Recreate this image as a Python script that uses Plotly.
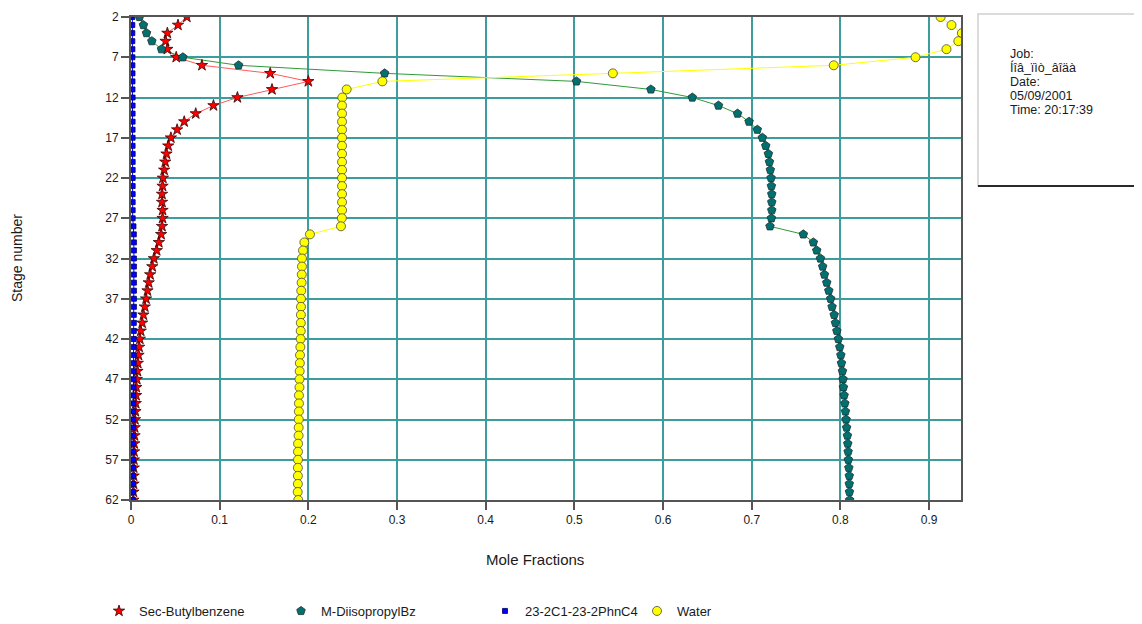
import plotly.graph_objects as go

# ---------------- data ----------------
stages = [2, 3, 4, 5, 6, 7, 8, 9, 10, 11, 12, 13, 14, 15, 16, 17, 18, 19, 20, 21,
          22, 23, 24, 25, 26, 27, 28, 29, 30, 31, 32, 33, 34, 35, 36, 37, 38, 39, 40, 41,
          42, 43, 44, 45, 46, 47, 48, 49, 50, 51, 52, 53, 54, 55, 56, 57, 58, 59, 60, 61, 62]

sec_butylbenzene = [0.063, 0.053, 0.041, 0.039, 0.041, 0.051, 0.080, 0.157, 0.200, 0.159,
                    0.120, 0.093, 0.073, 0.060, 0.052, 0.045, 0.042, 0.040, 0.0386, 0.0374,
                    0.036, 0.0356, 0.035, 0.035, 0.0356, 0.0356, 0.035, 0.034, 0.0314, 0.029,
                    0.0258, 0.024, 0.0216, 0.020, 0.0186, 0.017, 0.0156, 0.014, 0.0126, 0.011,
                    0.010, 0.0092, 0.0085, 0.0077, 0.0073, 0.0066, 0.006, 0.0058, 0.0054, 0.005,
                    0.0045, 0.0042, 0.004, 0.0037, 0.0035, 0.0033, 0.0031, 0.003, 0.0029, 0.0028,
                    0.0027]

m_diisopropylbz = [0.0096, 0.014, 0.0175, 0.0235, 0.0344, 0.0585, 0.1213, 0.286, 0.5024, 0.5863,
                   0.633, 0.6625, 0.684, 0.697, 0.7063, 0.712, 0.7158, 0.7188, 0.720, 0.721,
                   0.7218, 0.7222, 0.7226, 0.7226, 0.7226, 0.7222, 0.7206, 0.7582, 0.7695, 0.7733,
                   0.7775, 0.780, 0.782, 0.7846, 0.7869, 0.789, 0.7906, 0.793, 0.7944, 0.796,
                   0.7977, 0.7993, 0.8005, 0.8012, 0.8023, 0.803, 0.8034, 0.8042, 0.805, 0.8057,
                   0.8064, 0.807, 0.8079, 0.8083, 0.8087, 0.809, 0.8095, 0.810, 0.810, 0.8102,
                   0.8104]

phn_c4 = [0.0015, 0.0015, 0.0015, 0.0015, 0.0016, 0.0016, 0.0016, 0.0017, 0.0017, 0.0017,
          0.0018, 0.0018, 0.0018, 0.0018, 0.0018, 0.0018, 0.0018, 0.0019, 0.0019, 0.0019,
          0.0019, 0.0019, 0.0019, 0.0019, 0.0019, 0.0019, 0.0028, 0.0032, 0.0033, 0.0033,
          0.0033, 0.0033, 0.0033, 0.0033, 0.0033, 0.0033, 0.0033, 0.0032, 0.0032, 0.0032,
          0.0031, 0.0031, 0.0031, 0.0030, 0.0030, 0.0029, 0.0029, 0.0028, 0.0028, 0.0027,
          0.0027, 0.0026, 0.0026, 0.0025, 0.0025, 0.0024, 0.0024, 0.0023, 0.0023, 0.0022,
          0.0022]

water = [0.913, 0.9253, 0.937, 0.933, 0.9196, 0.8847, 0.7925, 0.5434, 0.2835, 0.2432,
         0.2383, 0.238, 0.238, 0.238, 0.238, 0.238, 0.238, 0.238, 0.238, 0.238,
         0.238, 0.238, 0.238, 0.238, 0.238, 0.2378, 0.2368, 0.2018, 0.1955, 0.194,
         0.1928, 0.1928, 0.1926, 0.1924, 0.192, 0.1917, 0.1917, 0.1916, 0.1915, 0.1914,
         0.1913, 0.191, 0.1906, 0.1904, 0.1902, 0.190, 0.190, 0.1894, 0.1894, 0.1893,
         0.1892, 0.1891, 0.189, 0.1884, 0.1883, 0.1883, 0.1882, 0.1882, 0.1882, 0.188,
         0.1886]

series_names = ["Sec-Butylbenzene", "M-DiisopropylBz", "23-2C1-23-2PhnC4", "Water"]
x_tick_values = [0, 0.1, 0.2, 0.3, 0.4, 0.5, 0.6, 0.7, 0.8, 0.9]
x_tick_labels = ["0", "0.1", "0.2", "0.3", "0.4", "0.5", "0.6", "0.7", "0.8", "0.9"]
y_tick_values = [2, 7, 12, 17, 22, 27, 32, 37, 42, 47, 52, 57, 62]
info_lines = ["Job:", "Íîâ_ïìò_âîäà", "Date:", "05/09/2001", "Time: 20:17:39"]

# ---------------- layout geometry ----------------
# the page body has an 8px default margin, so the figure is drawn 8px in from the
# window's top-left corner; sizes below are chosen so it fills the 1142x624 window.
OFF = 8
W, H = 1142 - OFF, 624 - OFF
ML, MT = 131 - OFF, 17 - OFF
MR = W - (961 - OFF)
MB = H - (500 - OFF)
PW, PH = W - ML - MR, H - MT - MB


def px_x(screen_px):
    return (screen_px - OFF - ML) / PW


def px_y(screen_py):
    return (H - MB - (screen_py - OFF)) / PH


FONT = "Liberation Sans, Arial, sans-serif"
TXT = "#1a1a1a"

styles = [
    dict(symbol="star", size=8.5, fill="#ff0000", outline="#3a0000", line="#ff5a5a"),
    dict(symbol="pentagon", size=9, fill="#007070", outline="#1f2f2f", line="#2f9a3a"),
    dict(symbol="square", size=5, fill="#0000ff", outline="#000060", line="#0000ff"),
    dict(symbol="circle", size=9, fill="#ffff00", outline="#4a4a30", line="#ffff00"),
]
series_values = [sec_butylbenzene, m_diisopropylbz, phn_c4, water]
legend_ids = ["legend", "legend2", "legend3", "legend4"]
legend_marker_px = [119, 301, 505, 657]

fig = go.Figure()
# connecting lines (not in legend)
for name, vals, st in zip(series_names, series_values, styles):
    fig.add_trace(go.Scatter(
        x=vals, y=stages, name=name, mode="lines", showlegend=False,
        line=dict(color=st["line"], width=1), hoverinfo="skip",
    ))
# markers (legend shows symbol only)
for name, vals, st, lid in zip(series_names, series_values, styles, legend_ids):
    fig.add_trace(go.Scatter(
        x=vals, y=stages, name=name, mode="markers",
        marker=dict(symbol=st["symbol"], size=st["size"], color=st["fill"],
                    line=dict(color=st["outline"], width=0.8)),
        legend=lid, cliponaxis=True,
    ))

legend_common = dict(orientation="h", yanchor="middle", xanchor="left",
                     y=px_y(611), bgcolor="rgba(0,0,0,0)",
                     font=dict(family=FONT, size=13, color=TXT))
legends = {}
for lid, mpx in zip(legend_ids, legend_marker_px):
    legends[lid] = dict(legend_common, x=px_x(mpx - 20))

fig.update_layout(
    width=W, height=H,
    margin=dict(l=ML, r=MR, t=MT, b=MB, autoexpand=False),
    paper_bgcolor="white", plot_bgcolor="white",
    font=dict(family=FONT, size=12, color=TXT),
    showlegend=True,
    **legends,
)

axis_common = dict(showline=True, linecolor="#555555", linewidth=2, mirror=True,
                   showgrid=True, gridcolor="#3d9d9d", gridwidth=1.5,
                   zeroline=False, ticks="outside", ticklen=8, tickwidth=1.5,
                   tickcolor="#555555", tickfont=dict(family=FONT, size=12, color=TXT))

fig.update_xaxes(range=[0, 0.936], tickvals=x_tick_values, ticktext=x_tick_labels, **axis_common)
fig.update_yaxes(range=[62, 2], tickvals=y_tick_values, **axis_common)

# axis titles
fig.add_annotation(text="Mole Fractions", xref="paper", yref="paper",
                   xanchor="center", yanchor="middle",
                   x=px_x(535), y=px_y(559), showarrow=False,
                   font=dict(family=FONT, size=15, color=TXT))
fig.add_annotation(text="Stage number", xref="paper", yref="paper", textangle=-90,
                   xanchor="center", yanchor="middle",
                   x=px_x(17), y=px_y(258), showarrow=False,
                   font=dict(family=FONT, size=14, color=TXT))

# info box
fig.add_shape(type="rect", xref="paper", yref="paper",
              x0=px_x(978), x1=px_x(1160), y0=px_y(186), y1=px_y(14),
              line=dict(color="#d0d0d0", width=1.5), fillcolor="white", layer="below")
fig.add_shape(type="line", xref="paper", yref="paper",
              x0=px_x(978), x1=px_x(1160), y0=px_y(186), y1=px_y(186),
              line=dict(color="#2a2a2a", width=2))
for i, t in enumerate(info_lines):
    fig.add_annotation(text=t, xref="paper", yref="paper", xanchor="left", yanchor="middle",
                       x=px_x(1008), y=px_y(54 + 14 * i), showarrow=False,
                       font=dict(family=FONT, size=12.5, color=TXT))

fig.write_html("out.html")
